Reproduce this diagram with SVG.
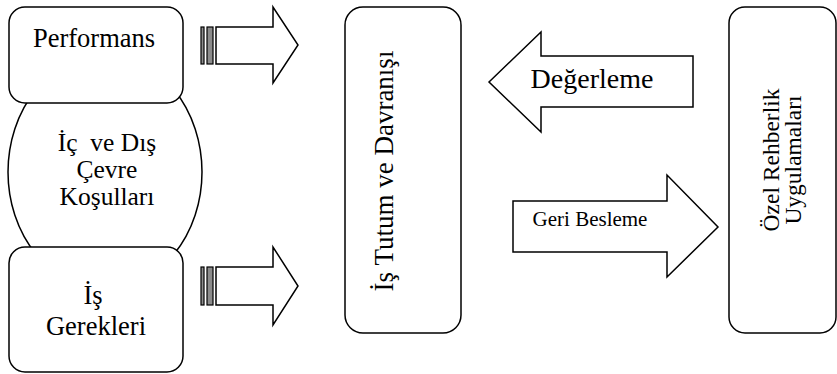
<svg xmlns="http://www.w3.org/2000/svg" width="837" height="374" viewBox="0 0 837 374">
<style>
.s{fill:#fff;stroke:#000;stroke-width:1.5;stroke-linejoin:miter}
.st{fill:#8c8c8c;stroke:#000;stroke-width:1.2}
text{font-family:'Liberation Serif',serif;fill:#000;text-anchor:middle}
</style>
<rect width="837" height="374" fill="#fff"/>
<g id="cevre">
<ellipse class="s" cx="105" cy="172" rx="97" ry="117"/>
<text font-family="Liberation Serif, serif" font-size="25.5"><tspan x="107" y="151" xml:space="preserve">İç  ve Dış</tspan><tspan x="107" y="178">Çevre</tspan><tspan x="107" y="205">Koşulları</tspan></text>
</g>
<g id="performans">
<rect class="s" x="9" y="7" width="174" height="96" rx="16"/>
<text font-family="Liberation Serif, serif" font-size="26.5" x="94" y="47">Performans</text>
</g>
<g id="gerekler">
<rect class="s" x="9" y="247" width="174" height="125" rx="16"/>
<text font-family="Liberation Serif, serif" font-size="26.5"><tspan x="93" y="304">İş</tspan><tspan x="96" y="335">Gerekleri</tspan></text>
</g>
<g id="tutum">
<rect class="s" x="345" y="7" width="116" height="326" rx="18"/>
<text font-family="Liberation Serif, serif" font-size="27" transform="translate(393,171) rotate(-90)">İş Tutum ve Davranışı</text>
</g>
<g id="rehberlik">
<rect class="s" x="729" y="7" width="107" height="326" rx="16"/>
<text font-family="Liberation Serif, serif" font-size="23.5" transform="translate(779,160) rotate(-90)"><tspan x="0" y="0">Özel Rehberlik</tspan><tspan x="0" y="22">Uygulamaları</tspan></text>
</g>
<g id="connectors">
<g id="arrow-performans">
<rect class="st" x="201" y="27" width="3" height="37"/>
<rect class="st" x="207" y="27" width="6" height="37"/>
<polygon class="s" points="216,27 273,27 273,7 298,45 273,83 273,64 216,64"/>
</g>
<g id="arrow-gerekler">
<rect class="st" x="201" y="267" width="3" height="38"/>
<rect class="st" x="207" y="267" width="6" height="38"/>
<polygon class="s" points="216,267 273,267 273,247 298,286 273,325 273,305 216,305"/>
</g>
<g id="arrow-degerleme">
<polygon class="s" points="489,82 541,32 541,56 693,56 693,107 541,107 541,132"/>
<text font-family="Liberation Serif, serif" font-size="28" x="592" y="88">Değerleme</text>
</g>
<g id="arrow-geribesleme">
<polygon class="s" points="513,201 667,201 667,175 718,227 667,277 667,252 513,252"/>
<text font-family="Liberation Serif, serif" font-size="21" x="590" y="226">Geri Besleme</text>
</g>
</g>
</svg>
